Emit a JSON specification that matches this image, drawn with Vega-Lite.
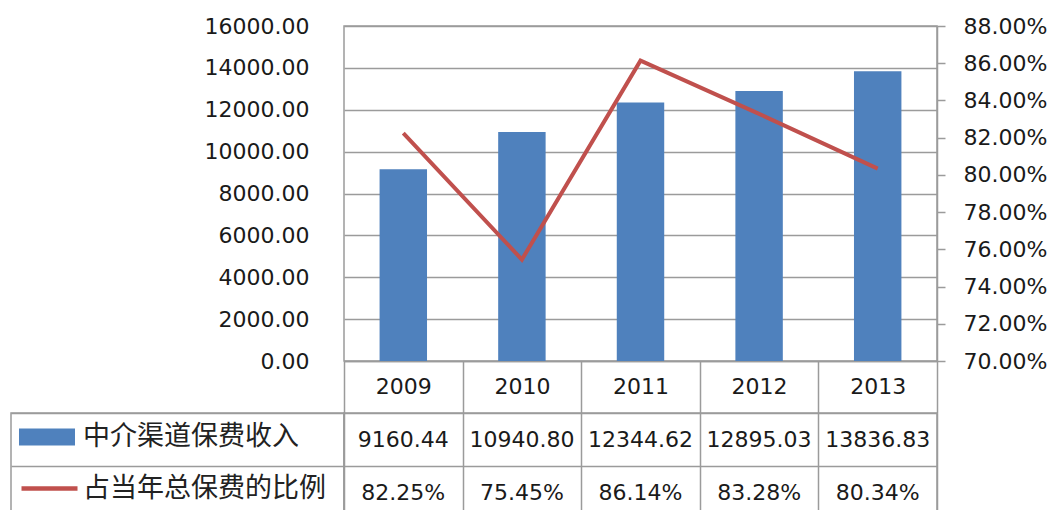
{
  "$schema": "https://vega.github.io/schema/vega-lite/v6.json",
  "background": "white",
  "padding": {"left": 10, "top": 14, "right": 0, "bottom": 0},
  "datasets": {
    "main": [
      {"year": "2009", "income": 9160.44, "ratio": 0.8225},
      {"year": "2010", "income": 10940.80, "ratio": 0.7545},
      {"year": "2011", "income": 12344.62, "ratio": 0.8614},
      {"year": "2012", "income": 12895.03, "ratio": 0.8328},
      {"year": "2013", "income": 13836.83, "ratio": 0.8034}
    ],
    "rows": [
      {"row": "中介渠道保费收入"},
      {"row": "占当年总保费的比例"}
    ]
  },
  "columns": 2,
  "align": "each",
  "bounds": "flush",
  "spacing": {"row": 52, "column": 0},
  "config": {
    "view": {"stroke": "#9B9B9B", "strokeWidth": 1.5},
    "axis": {
      "labelFont": "DejaVu Sans",
      "labelFontSize": 22,
      "labelColor": "#1a1a1a",
      "title": null,
      "gridColor": "#9B9B9B",
      "gridWidth": 1.5,
      "domainColor": "#9B9B9B",
      "tickColor": "#9B9B9B"
    },
    "text": {"font": "DejaVu Sans", "fontSize": 22, "color": "#1a1a1a"},
    "legend": {
      "labelFont": "Noto Sans CJK SC",
      "labelFontSize": 27,
      "labelColor": "#222222",
      "labelLimit": 400,
      "padding": 0
    }
  },
  "concat": [
    {
      "width": 333,
      "height": 335,
      "data": {"values": []},
      "mark": "point",
      "view": {"stroke": null}
    },
    {
      "width": 593,
      "height": 335,
      "data": {"name": "main"},
      "layer": [
        {
          "mark": {"type": "bar", "width": {"band": 0.4}},
          "encoding": {
            "x": {
              "field": "year",
              "type": "nominal",
              "scale": {"paddingInner": 0, "paddingOuter": 0},
              "axis": {
                "labelAngle": 0,
                "tickBand": "extent",
                "tickSize": 52,
                "tickWidth": 1.5,
                "labelBaseline": "middle",
                "labelPadding": -27,
                "domain": true,
                "domainWidth": 1.5
              }
            },
            "y": {
              "field": "income",
              "type": "quantitative",
              "scale": {"domain": [0, 16000]},
              "axis": {
                "values": [0, 2000, 4000, 6000, 8000, 10000, 12000, 14000, 16000],
                "format": ".2f",
                "grid": true,
                "ticks": false,
                "domain": false,
                "labelPadding": 35
              }
            },
            "fill": {
              "datum": "中介渠道保费收入",
              "type": "nominal",
              "scale": {"range": ["#4F81BD"]},
              "legend": {
                "orient": "none",
                "legendX": 8,
                "legendY": 383,
                "title": null,
                "symbolType": "M-1,-0.3H1V0.3H-1Z",
                "symbolSize": 3136,
                "symbolStrokeWidth": 0,
                "labelOffset": 8
              }
            }
          }
        },
        {
          "mark": {"type": "line", "strokeWidth": 4},
          "encoding": {
            "x": {"field": "year", "type": "nominal"},
            "y": {
              "field": "ratio",
              "type": "quantitative",
              "scale": {"domain": [0.7, 0.88], "zero": false},
              "axis": {
                "orient": "right",
                "values": [0.7, 0.72, 0.74, 0.76, 0.78, 0.8, 0.82, 0.84, 0.86, 0.88],
                "format": ".2%",
                "grid": false,
                "tickSize": 8,
                "tickWidth": 1.5,
                "labelPadding": 18,
                "domain": true,
                "domainWidth": 1.5
              }
            },
            "stroke": {
              "datum": "占当年总保费的比例",
              "type": "nominal",
              "scale": {"range": ["#C0504D"]},
              "legend": {
                "orient": "none",
                "legendX": 8,
                "legendY": 432,
                "title": null,
                "symbolType": "stroke",
                "symbolSize": 3136,
                "symbolStrokeWidth": 4.5,
                "labelOffset": 3
              }
            }
          }
        }
      ],
      "resolve": {"scale": {"y": "independent"}}
    },
    {
      "width": 333,
      "height": 106,
      "data": {"name": "rows"},
      "mark": {"type": "rule", "opacity": 0},
      "encoding": {
        "y": {
          "field": "row",
          "type": "nominal",
          "sort": null,
          "scale": {"paddingInner": 0, "paddingOuter": 0},
          "axis": {"labels": false, "ticks": false, "domain": false, "grid": true, "tickBand": "extent"}
        }
      }
    },
    {
      "width": 593,
      "height": 106,
      "data": {"name": "main"},
      "encoding": {
        "x": {
          "field": "year",
          "type": "nominal",
          "scale": {"paddingInner": 0, "paddingOuter": 0},
          "axis": {"labels": false, "ticks": false, "domain": false, "grid": true, "tickBand": "extent"}
        }
      },
      "layer": [
        {
          "mark": {"type": "text"},
          "encoding": {
            "y": {
              "datum": "中介渠道保费收入",
              "type": "nominal",
              "scale": {"domain": ["中介渠道保费收入", "占当年总保费的比例"], "paddingInner": 0, "paddingOuter": 0},
              "axis": {"labels": false, "ticks": false, "domain": false, "grid": true, "tickBand": "extent"}
            },
            "text": {"field": "income", "type": "quantitative", "format": ".2f"}
          }
        },
        {
          "mark": {"type": "text"},
          "encoding": {
            "y": {"datum": "占当年总保费的比例", "type": "nominal"},
            "text": {"field": "ratio", "type": "quantitative", "format": ".2%"}
          }
        }
      ]
    }
  ]
}
